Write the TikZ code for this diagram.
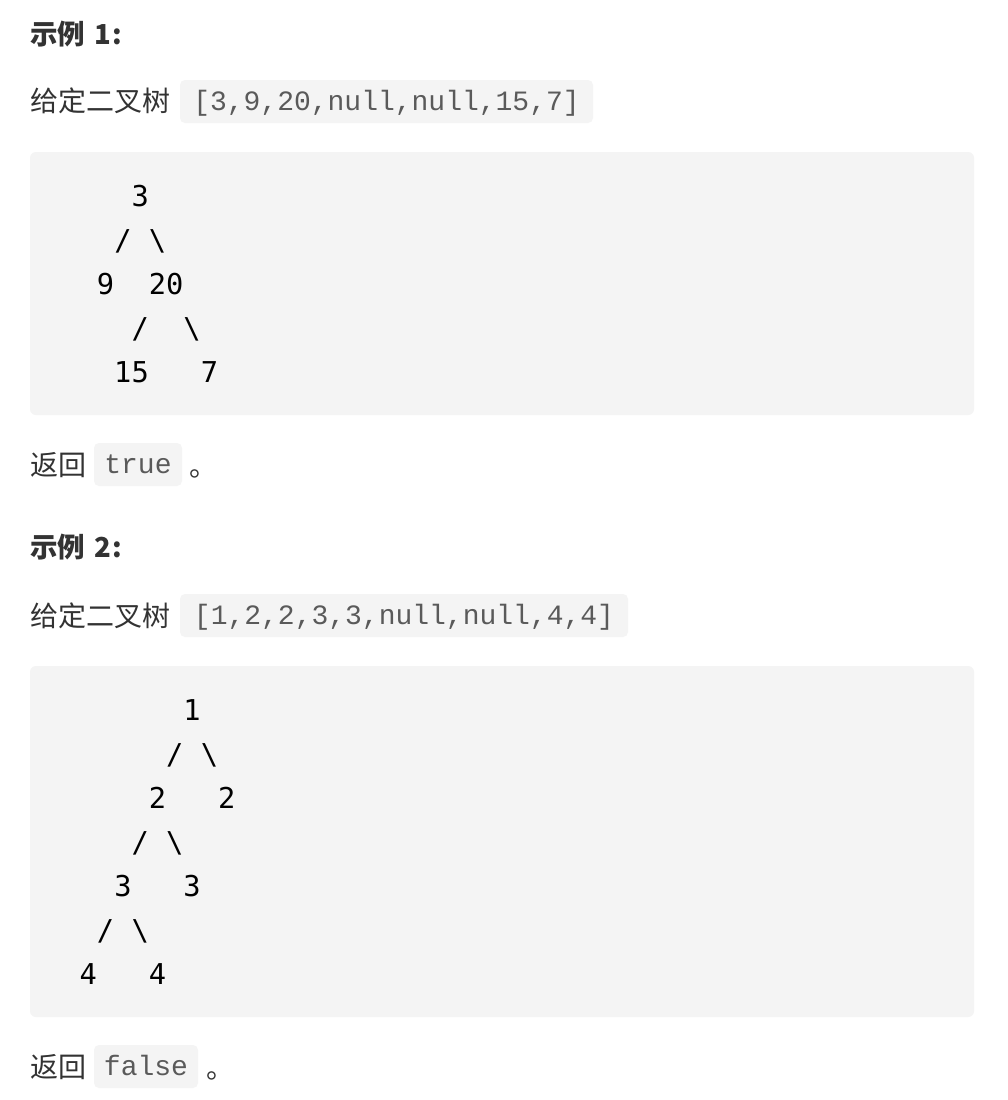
\documentclass[tikz,border=0pt]{standalone}
\usepackage{fontspec}
\newfontfamily\cjk{Noto Sans CJK SC}
\newfontfamily\treefont{DejaVu Sans Mono}
\newfontfamily\codefont{Liberation Mono}
\definecolor{txt}{HTML}{333333}
\definecolor{codetxt}{HTML}{5A5A5A}
\definecolor{codebg}{HTML}{F4F4F4}
\begin{document}
\begin{tikzpicture}[x=1pt,y=-1pt,
  heading/.style={anchor=base west, inner sep=0pt, text=txt, font=\cjk\bfseries\fontsize{27.5}{27.5}\selectfont},
  body/.style={anchor=base west, inner sep=0pt, text=txt, font=\cjk\fontsize{28}{28}\selectfont},
  codebox/.style={fill=codebg, rounded corners=5pt, inner sep=0pt, text=codetxt,
    font=\codefont\fontsize{28}{28}\selectfont, text height=20pt, text depth=3pt, minimum height=43pt},
  block/.style={fill=codebg, rounded corners=6pt, inner sep=0pt},
  tree/.style={anchor=base, inner sep=0pt, text=black, font=\treefont\fontsize{28.7}{28.7}\selectfont}]
\useasboundingbox (0,0) rectangle (1008,1100);
\fill[white] (0,0) rectangle (1008,1100);

% ---------- Example 1 ----------
\node[heading] (h1) at (30,44) {示例\hspace{9pt}1\hspace{1.5pt}:};
\node[body] (g1) at (30,111) {给定二叉树};
\node[codebox, minimum width=413pt] (c1) at (386.5,101.5) {[3,9,20,null,null,15,7]};
\node[block, minimum width=944pt, minimum height=263pt] (b1) at (502,283.5) {};
\node[tree] (a1) at (140.2,206.5) {3};
\node[tree] (a2) at (122.9,250.5) {/};
\node[tree] (a3) at (157.5,250.5) {\textbackslash};
\node[tree] (a4) at (105.6,294.5) {9};
\node[tree] (a5) at (166.2,294.5) {20};
\node[tree] (a6) at (140.2,338.5) {/};
\node[tree] (a7) at (192.1,338.5) {\textbackslash};
\node[tree] (a8) at (131.5,382.5) {15};
\node[tree] (a9) at (209.4,382.5) {7};
\node[body] (r1) at (30,475) {返回};
\node[codebox, minimum width=88pt] (c2) at (138,464.5) {true};
\node[body] (p1) at (189,476) {。};

% ---------- Example 2 ----------
\node[heading] (h2) at (30,557) {示例\hspace{9pt}2\hspace{1.5pt}:};
\node[body] (g2) at (30,626) {给定二叉树};
\node[codebox, minimum width=448pt] (c3) at (404,615.5) {[1,2,2,3,3,null,null,4,4]};
\node[block, minimum width=944pt, minimum height=351pt] (b2) at (502,841.5) {};
\node[tree] (t1) at (192.1,720.5) {1};
\node[tree] (t2) at (174.8,764.5) {/};
\node[tree] (t3) at (209.4,764.5) {\textbackslash};
\node[tree] (t4) at (157.5,808.5) {2};
\node[tree] (t5) at (226.7,808.5) {2};
\node[tree] (t6) at (140.2,852.5) {/};
\node[tree] (t7) at (174.8,852.5) {\textbackslash};
\node[tree] (t8) at (122.9,896.5) {3};
\node[tree] (t9) at (192.1,896.5) {3};
\node[tree] (t10) at (105.6,940.5) {/};
\node[tree] (t11) at (140.2,940.5) {\textbackslash};
\node[tree] (t12) at (88.3,984.5) {4};
\node[tree] (t13) at (157.5,984.5) {4};
\node[body] (r2) at (30,1077) {返回};
\node[codebox, minimum width=104pt] (c4) at (146,1066.5) {false};
\node[body] (p2) at (206,1078) {。};
\end{tikzpicture}
\end{document}
